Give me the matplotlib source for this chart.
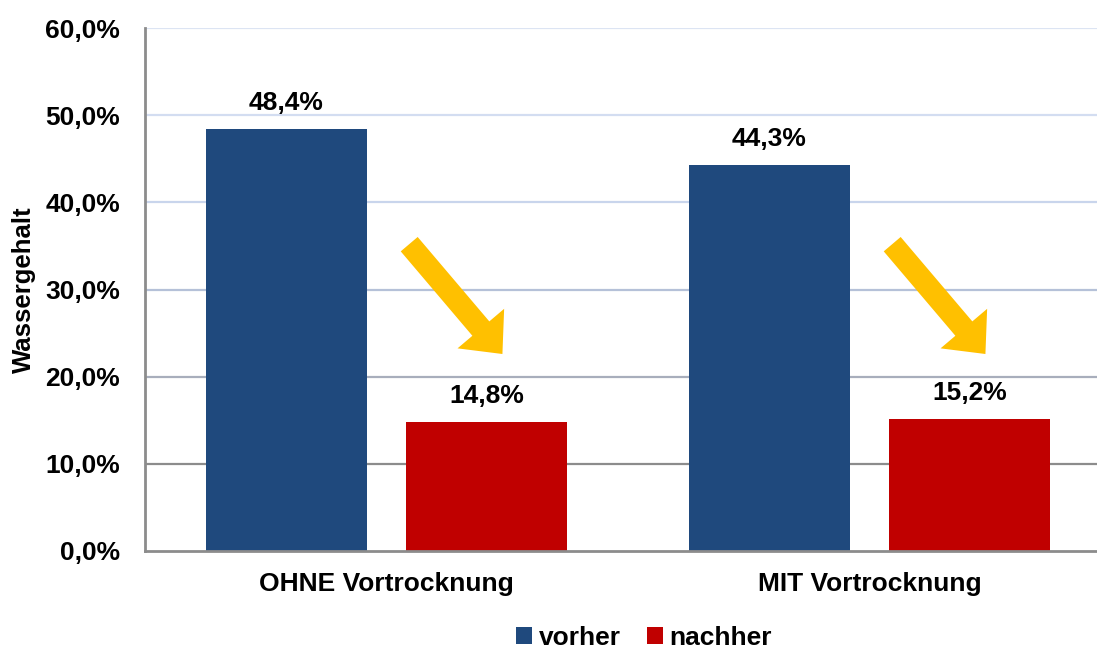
import matplotlib
matplotlib.use("Agg")
import matplotlib.pyplot as plt
import numpy as np

categories = ["OHNE Vortrocknung", "MIT Vortrocknung"]
series_names = ["vorher", "nachher"]
vorher = [48.4, 44.3]
nachher = [14.8, 15.2]
y_ticks = [0, 10, 20, 30, 40, 50, 60]
colors = ["#1F497D", "#C00000"]

plt.rcParams['font.family'] = ['Liberation Sans', 'DejaVu Sans']
plt.rcParams['font.weight'] = 'bold'

W, H = 1097, 648
fig = plt.figure(figsize=(W / 100, H / 100), dpi=100)
left_px, right_px, top_px, bot_px = 145, 1097, 28, 551
ax = fig.add_axes([left_px / W, 1 - bot_px / H, (right_px - left_px) / W, (bot_px - top_px) / H])

cat_px = 483.0
x = np.arange(len(categories))
ax.set_xlim(-0.5, -0.5 + (right_px - left_px) / cat_px)
ax.set_ylim(0, 60)

grid_colors = {10: "#8C8C8C", 20: "#A8AEBC", 30: "#B5C1D8", 40: "#C9D5EC", 50: "#D3DDF1", 60: "#DCE4F3"}
for yv in y_ticks[1:]:
    ax.axhline(yv, color=grid_colors[yv], lw=1.6, zorder=0)

off, bw = 0.207, 0.333
b1 = ax.bar(x - off, vorher, bw, color=colors[0], label=series_names[0], zorder=2)
b2 = ax.bar(x + off, nachher, bw, color=colors[1], label=series_names[1], zorder=2)

fs = 19
for bars, vals in ((b1, vorher), (b2, nachher)):
    for r, v in zip(bars, vals):
        ax.annotate(f"{v:.1f}%".replace(".", ","), (r.get_x() + r.get_width() / 2, v),
                    xytext=(0, 10), textcoords="offset points", ha="center", va="bottom",
                    fontsize=fs, fontweight="bold")

for xi, v1, v2 in zip(x, vorher, nachher):
    ax.annotate("", xy=(xi + 0.240, 22.6), xytext=(xi + 0.047, 35.2),
                arrowprops=dict(arrowstyle="simple,head_length=24,head_width=44,tail_width=16",
                                mutation_scale=1, color="#FFC000", lw=0,
                                shrinkA=0, shrinkB=0), zorder=3)

ax.set_yticks(y_ticks)
ax.set_yticklabels([f"{t:.1f}%".replace(".", ",") for t in y_ticks], fontsize=fs, fontweight="bold")
ax.set_xticks(x)
ax.set_xticklabels(categories, fontsize=fs, fontweight="bold")
ax.tick_params(axis="both", length=0)
ax.tick_params(axis="y", pad=18)
ax.tick_params(axis="x", pad=15)

for s in ["top", "right"]:
    ax.spines[s].set_visible(False)
ax.spines["left"].set_color("#8C8C8C")
ax.spines["left"].set_linewidth(2)
ax.spines["bottom"].set_color("#8C8C8C")
ax.spines["bottom"].set_linewidth(2)

ax.set_ylabel("Wassergehalt", fontsize=18.5, fontweight="bold")
ax.yaxis.set_label_coords(-109 / (right_px - left_px), 0.5)

leg = fig.legend(handles=[b1, b2], labels=series_names, loc="center", bbox_to_anchor=(644 / W, 1 - 638 / H),
                 ncol=2, frameon=False, fontsize=fs, handlelength=0.6, handleheight=0.6,
                 handletextpad=0.25, columnspacing=1.0, borderaxespad=0, borderpad=0)
for t in leg.get_texts():
    t.set_fontweight("bold")

fig.savefig("out.png", dpi=100)
